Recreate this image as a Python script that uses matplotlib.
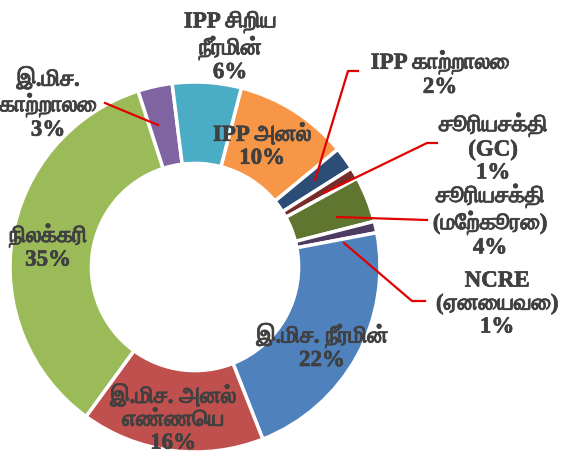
import matplotlib
matplotlib.use("Agg")
import matplotlib.pyplot as plt
import matplotlib.patheffects as pe
from matplotlib import font_manager
from matplotlib.ft2font import FT2Font

# slices in clockwise order, starting at the orange one
names = ["IPP அனல்", "IPP காற்றாலை", "சூரியசக்தி\n(GC)", "சூரியசக்தி\n(மேற்கூரை)",
         "NCRE\n(ஏனையவை)", "இ.மிச. நீர்மின்", "இ.மிச. அனல்\nஎண்ணெய",
         "நிலக்கரி", "இ.மிச.\nகாற்றாலை", "IPP சிறிய\nநீர்மின்"]
shares = [10, 2, 1, 4, 1, 22, 16, 35, 3, 6]
colors = ["#F79646", "#2C4D75", "#772C2A", "#5F7530", "#4D3B62",
          "#4F81BD", "#C0504D", "#9BBB59", "#8064A2", "#4BACC6"]

# find something that can draw Tamil, serif first
tamil = []
for f in font_manager.fontManager.ttflist:
    try:
        if 0x0BA4 in FT2Font(f.fname).get_charmap() and f.name not in tamil:
            tamil.append(f.name)
    except Exception:
        pass
tamil.sort(key=lambda n: "Serif" not in n)
fams = ["Liberation Serif"] + tamil[:1] + ["DejaVu Sans"]

W, H = 564, 459
cx, cy, R = 195, 267, 185


def px(x, y):
    return (x - cx) / R, (cy - y) / R


fig = plt.figure(figsize=(W / 100, H / 100), dpi=100)
ax = fig.add_axes([0, 0, 1, 1])
ax.pie(shares, colors=colors, startangle=75.5, counterclock=False, radius=1,
       wedgeprops=dict(width=0.44, edgecolor="white", linewidth=2.5))
ax.set_xlim(-cx / R, (W - cx) / R)
ax.set_ylim(-(H - cy) / R, cy / R)
ax.set_aspect("equal")
ax.axis("off")

# label centres in pixels
label_pos = [(262, 146), (440, 74), (493, 148), (490, 221), (497, 304),
             (322, 347), (173, 419), (48, 247), (48, 104), (230, 47)]
bold = [pe.withStroke(linewidth=0.5, foreground="#404040")]
for name, s, (x, y) in zip(names, shares, label_pos):
    ax.text(*px(x, y), f"{name}\n{s}%", ha="center", va="center",
            family=fams, fontsize=16.5, fontweight="bold", color="#404040",
            linespacing=1.12, path_effects=bold)

# leader lines
leaders = [
    [(105, 103), (158, 125)],
    [(358, 71), (348, 71), (315, 180)],
    [(437, 143), (427, 143), (324, 193)],
    [(427, 220), (337, 217)],
    [(425, 301), (412, 301), (344, 243)],
]
for pts in leaders:
    xs, ys = zip(*[px(x, y) for x, y in pts])
    ax.plot(xs, ys, color="#E00000", lw=1.6)

fig.savefig("out.png", dpi=100)
